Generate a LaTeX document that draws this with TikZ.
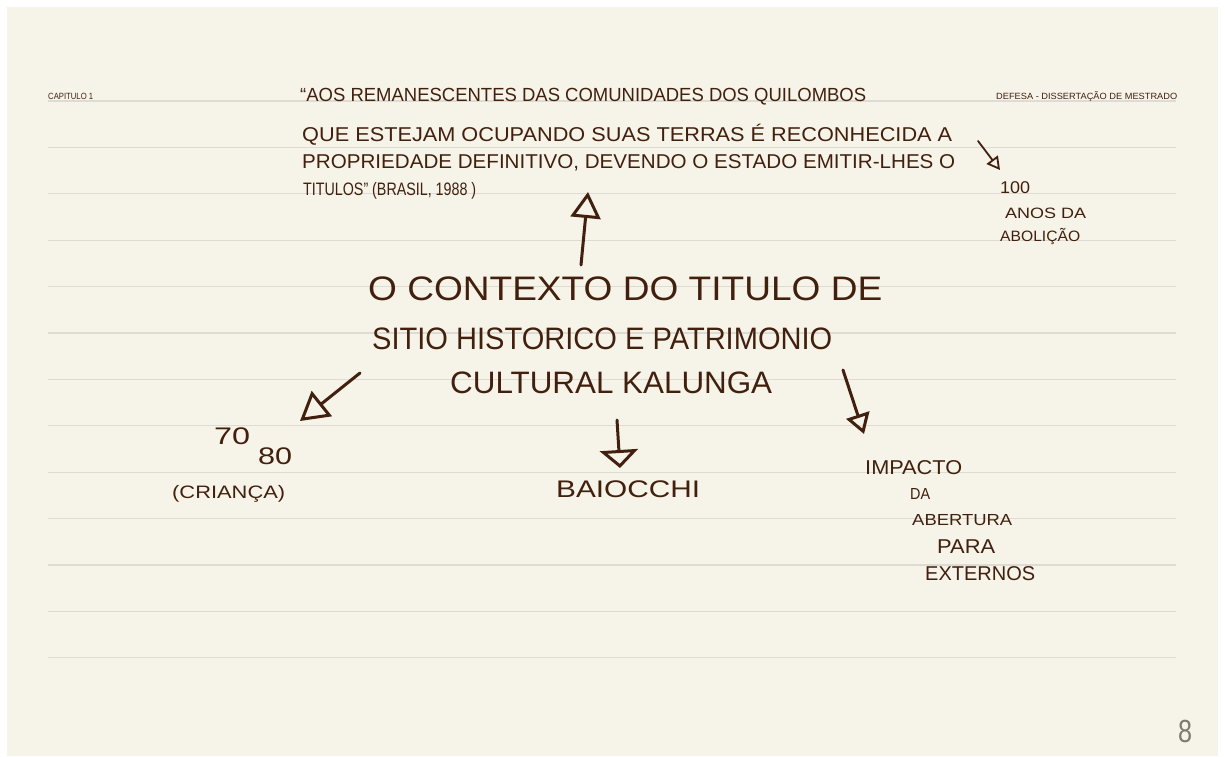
\documentclass[tikz,border=0pt]{standalone}
\usepackage{fontspec}
\setmainfont{Liberation Sans}
\usepackage{graphicx}
\usetikzlibrary{arrows.meta}
\definecolor{paper}{RGB}{246,243,232}
\definecolor{ruling}{RGB}{221,219,211}
\definecolor{ink}{RGB}{66,32,14}
\definecolor{pencil}{RGB}{125,122,115}
% size, target width, text: one written line stretched to its width
\newcommand\handline[3]{{\fontsize{#1}{#1}\selectfont\resizebox{#2pt}{\height}{#3}}}

\begin{document}
\begin{tikzpicture}[x=1pt,y=-1pt,
  txt/.style={anchor=base west, inner sep=0pt, text=ink},
  pen/.style={draw=ink, line width=3pt, line cap=round, line join=round},
  thinpen/.style={draw=ink, line width=1.8pt, line cap=round, line join=round}]

% sheet
\useasboundingbox (0,0) rectangle (1225,756);
\fill[white] (0,0) rectangle (1225,756);
\fill[paper] (7,7) rectangle (1218,756);
\foreach \k in {0,...,12}
  \draw[ruling, line width=1.2pt] (48,{101+46.4*\k}) -- (1176,{101+46.4*\k});

% page headers
\node[txt] (cap) at (48,99) {\handline{9}{45}{CAPITULO 1}};
\node[txt] (defesa) at (996,99) {\handline{9}{181}{DEFESA - DISSERTAÇÃO DE MESTRADO}};

% quotation
\node[txt] (q1) at (300,101) {\handline{19}{566}{“AOS REMANESCENTES DAS COMUNIDADES DOS QUILOMBOS}};
\node[txt] (q2) at (302,141) {\handline{20}{650}{QUE ESTEJAM OCUPANDO SUAS TERRAS É RECONHECIDA A}};
\node[txt] (q3) at (302,168) {\handline{20}{653}{PROPRIEDADE DEFINITIVO, DEVENDO O ESTADO EMITIR-LHES O}};
\node[txt] (q4) at (303,195) {\handline{18}{173}{TITULOS” (BRASIL, 1988 )}};

% side note
\node[txt] (a1) at (1000,193) {\handline{17}{30}{100}};
\node[txt] (a2) at (1005,218) {\handline{15}{81}{ANOS DA}};
\node[txt] (a3) at (1000,241) {\handline{15}{80}{ABOLIÇÃO}};

% central title
\node[txt] (t1) at (368,300) {\handline{34}{514}{O CONTEXTO DO TITULO DE}};
\node[txt] (t2) at (372,349) {\handline{31}{460}{SITIO HISTORICO E PATRIMONIO}};
\node[txt] (t3) at (450,393) {\handline{31}{322}{CULTURAL KALUNGA}};

% branches
\node[txt] (n70) at (214,444) {\handline{24}{36}{70}};
\node[txt] (n80) at (258,464) {\handline{24}{34}{80}};
\node[txt] (crianca) at (172,498) {\handline{18}{113}{(CRIANÇA)}};
\node[txt] (baiocchi) at (556,497) {\handline{24}{144}{BAIOCCHI}};
\node[txt] (imp1) at (865,474) {\handline{20}{97}{IMPACTO}};
\node[txt] (imp2) at (910,499) {\handline{16}{20}{DA}};
\node[txt] (imp3) at (912,525) {\handline{16}{100}{ABERTURA}};
\node[txt] (imp4) at (937,553) {\handline{20}{58}{PARA}};
\node[txt] (imp5) at (925,580) {\handline{20}{110}{EXTERNOS}};

% page number
\node[anchor=base west, inner sep=0pt, text=pencil] (pg) at (1178,742) {\handline{32}{14}{8}};

% arrow ends
\coordinate (upFrom) at (581,265);   \coordinate (upTo) at (588,192);
\coordinate (leftFrom) at (360,373); \coordinate (leftTo) at (300,421);
\coordinate (downFrom) at (617,420); \coordinate (downTo) at (620,468);
\coordinate (rightFrom) at (843,370);\coordinate (rightTo) at (864,434);
\coordinate (noteFrom) at (978,141); \coordinate (noteTo) at (1000,170);

% arrows
\draw[pen, -{Triangle[open, length=26pt, width=30pt]}] (upFrom) -- (upTo);
\draw[pen, -{Triangle[open, length=28pt, width=32pt]}] (leftFrom) -- (leftTo);
\draw[pen, -{Triangle[open, length=18pt, width=38pt]}] (downFrom) -- (downTo);
\draw[pen, -{Triangle[open, length=20pt, width=24pt]}] (rightFrom) -- (rightTo);
\draw[thinpen, -{Triangle[open, length=13pt, width=14pt]}] (noteFrom) -- (noteTo);
\end{tikzpicture}
\end{document}
